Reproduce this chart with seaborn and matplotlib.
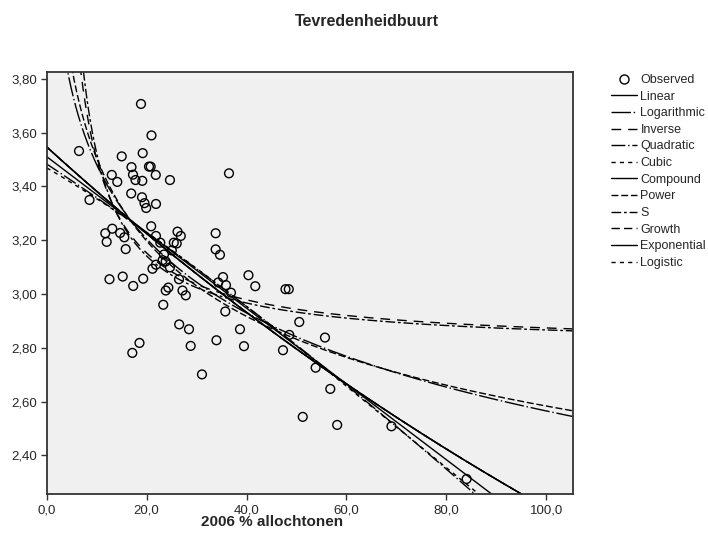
import numpy as np
import pandas as pd
import seaborn as sns
import matplotlib.pyplot as plt
from matplotlib.lines import Line2D

x_obs = [6.45, 18.86, 20.96, 19.20, 15.00, 16.96, 17.26, 17.76, 19.12, 20.46,
         20.80, 21.82, 24.66, 36.48, 13.01, 14.11, 8.55, 16.90, 19.06, 19.56,
         19.90, 21.86, 11.71, 11.99, 13.11, 14.69, 15.52, 15.80, 20.90, 21.86,
         22.72, 26.17, 26.83, 25.43, 26.01, 25.03, 23.46, 23.20, 23.80, 21.86,
         21.16, 24.66, 33.81, 33.81, 34.67, 12.55, 15.20, 17.30, 19.30, 26.47,
         23.82, 24.34, 27.17, 27.83, 23.32, 35.28, 34.33, 35.88, 36.88, 40.38,
         41.74, 47.79, 48.45, 26.51, 28.47, 28.81, 35.74, 38.68, 39.48, 33.97,
         31.07, 17.12, 18.56, 47.29, 50.55, 48.55, 55.70, 53.83, 56.76, 51.25,
         58.14, 69.01, 84.06]
y_obs = [3.532, 3.707, 3.590, 3.524, 3.512, 3.472, 3.444, 3.424, 3.421, 3.474,
         3.474, 3.443, 3.424, 3.449, 3.443, 3.417, 3.350, 3.374, 3.360, 3.338,
         3.320, 3.335, 3.226, 3.194, 3.243, 3.227, 3.211, 3.167, 3.252, 3.216,
         3.191, 3.232, 3.216, 3.191, 3.188, 3.162, 3.147, 3.126, 3.121, 3.109,
         3.094, 3.099, 3.226, 3.166, 3.146, 3.055, 3.065, 3.030, 3.057, 3.055,
         3.013, 3.024, 3.013, 2.995, 2.960, 3.063, 3.043, 3.033, 3.005, 3.070,
         3.029, 3.018, 3.018, 2.887, 2.869, 2.807, 2.935, 2.869, 2.806, 2.828,
         2.701, 2.781, 2.818, 2.791, 2.896, 2.848, 2.838, 2.726, 2.647, 2.543,
         2.513, 2.508, 2.312]

model_names = ['Linear', 'Logarithmic', 'Inverse', 'Quadratic', 'Cubic', 'Compound',
               'Power', 'S', 'Growth', 'Exponential', 'Logistic']
model_dashes = ['-', (0, (14, 2, 1, 2)), (0, (7, 5)), (0, (10, 2, 1, 2)), (0, (3, 3)), '-',
                (0, (5, 2)), (0, (7, 2, 2, 2)), (0, (6, 3)), '-', (0, (3, 3))]

x_ticks = [0, 20, 40, 60, 80, 100]
y_ticks = [2.40, 2.60, 2.80, 3.00, 3.20, 3.40, 3.60, 3.80]

xo = np.array(x_obs)
yo = np.array(y_obs)
xs = np.linspace(0.0, 105.3, 500)
xp = np.linspace(0.2, 105.3, 2000)

# curve estimation fits (like SPSS)
b = np.polyfit(xo, yo, 1)
b_log = np.polyfit(np.log(xo), yo, 1)
b_inv = np.polyfit(1 / xo, yo, 1)
b_q = np.polyfit(xo, yo, 2)
b_c = np.polyfit(xo, yo, 3)
b_exp = np.polyfit(xo, np.log(yo), 1)
b_pow = np.polyfit(np.log(xo), np.log(yo), 1)
b_s = np.polyfit(1 / xo, np.log(yo), 1)

curves = {
    'Linear': (xs, np.polyval(b, xs)),
    'Logarithmic': (xp, np.polyval(b_log, np.log(xp))),
    'Inverse': (xp, np.polyval(b_inv, 1 / xp)),
    'Quadratic': (xs, np.polyval(b_q, xs)),
    'Cubic': (xs, np.polyval(b_c, xs)),
    'Compound': (xs, np.exp(np.polyval(b_exp, xs))),
    'Power': (xp, np.exp(np.polyval(b_pow, np.log(xp)))),
    'S': (xp, np.exp(np.polyval(b_s, 1 / xp))),
    'Growth': (xs, np.exp(np.polyval(b_exp, xs))),
    'Exponential': (xs, np.exp(np.polyval(b_exp, xs))),
    'Logistic': (xs, np.exp(np.polyval(b_exp, xs))),
}

sns.set_style('white')
plt.rcParams['font.family'] = ['Liberation Sans', 'DejaVu Sans']

fig = plt.figure(figsize=(7.08, 5.47), dpi=100)
ax = fig.add_axes([46.8 / 708, 1 - 494.3 / 547, 525.9 / 708, 422.6 / 547])
ax.set_facecolor('#f0f0f0')

df = pd.DataFrame({'x': x_obs, 'y': y_obs})
sns.scatterplot(data=df, x='x', y='y', ax=ax, marker='o', s=40,
                facecolor='none', edgecolor='black', linewidth=1.0, zorder=3)

handles = [Line2D([], [], marker='o', linestyle='none', markerfacecolor='none',
                  markeredgecolor='black', markersize=6.5, label='Observed')]
for name, ls in zip(model_names, model_dashes):
    cx, cy = curves[name]
    sns.lineplot(x=cx, y=cy, ax=ax, color='black', linewidth=1.0,
                 linestyle=ls, sort=False, estimator=None, zorder=2)
    handles.append(Line2D([], [], color='black', linewidth=1.0, linestyle=ls, label=name))

ax.set_xlim(0, 105.3)
ax.set_ylim(2.255, 3.827)
ax.set_xticks(x_ticks)
ax.set_xticklabels([f'{v:.1f}'.replace('.', ',') for v in x_ticks])
ax.set_yticks(y_ticks)
ax.set_yticklabels([f'{v:.2f}'.replace('.', ',') for v in y_ticks])
ax.tick_params(direction='out', length=4, width=1, color='#333333',
               labelsize=9.5, pad=3, bottom=True, left=True)
for sp in ax.spines.values():
    sp.set_color('#333333')
    sp.set_linewidth(1.3)
ax.set_xlabel('')
ax.set_ylabel('')

fig.text(272 / 708, 1 - 522 / 547, '2006 % allochtonen', ha='center', va='center',
         fontsize=11, fontweight='bold')
fig.text(367 / 708, 1 - 22 / 547, 'Tevredenheidbuurt', ha='center', va='center',
         fontsize=11.5, fontweight='bold')

fig.legend(handles=handles, loc='upper left', bbox_to_anchor=(611 / 708, 1 - 74 / 547),
           frameon=False, fontsize=9, handlelength=2.1, handletextpad=0.25,
           labelspacing=0.37, borderaxespad=0, borderpad=0)

fig.savefig('out.png', dpi=100)
